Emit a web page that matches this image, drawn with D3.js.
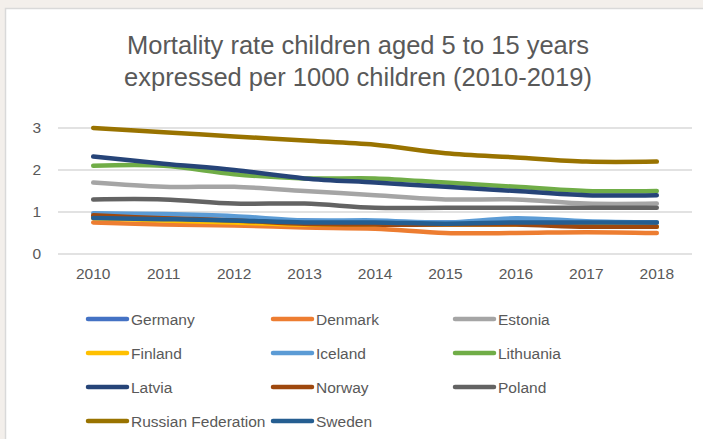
<!DOCTYPE html>
<html><head><meta charset="utf-8">
<script src="https://cdn.jsdelivr.net/npm/d3@7"></script>
<style>html,body{margin:0;padding:0;background:#f3efeb;overflow:hidden}</style>
</head><body>
<svg id="c" width="703" height="439"></svg>
<script>
const years = ["2010","2011","2012","2013","2014","2015","2016","2017","2018"];
const yTicks = [0,1,2,3];
const titleLines = ["Mortality rate children aged 5 to 15 years","expressed per 1000 children (2010-2019)"];
const seriesNames = ["Germany","Denmark","Estonia","Finland","Iceland","Lithuania","Latvia","Norway","Poland","Russian Federation","Sweden"];
const seriesColors = ["#4472C4","#ED7D31","#A5A5A5","#FFC000","#5B9BD5","#70AD47","#264478","#9E480E","#636363","#997300","#255E91"];
const germany   = [0.88,0.85,0.8,0.8,0.75,0.75,0.75,0.75,0.75];
const denmark   = [0.75,0.7,0.68,0.63,0.6,0.5,0.5,0.52,0.5];
const estonia   = [1.7,1.6,1.6,1.5,1.4,1.3,1.3,1.2,1.2];
const finland   = [0.85,0.8,0.75,0.7,0.7,0.7,0.7,0.7,0.65];
const iceland   = [0.97,0.95,0.9,0.8,0.8,0.75,0.85,0.78,0.75];
const lithuania = [2.1,2.1,1.9,1.8,1.8,1.7,1.6,1.5,1.5];
const latvia    = [2.32,2.15,2.0,1.8,1.7,1.6,1.5,1.4,1.4];
const norway    = [0.92,0.85,0.8,0.72,0.7,0.7,0.7,0.65,0.65];
const poland    = [1.3,1.3,1.2,1.2,1.1,1.1,1.1,1.1,1.1];
const russia    = [3.0,2.9,2.8,2.7,2.6,2.4,2.3,2.2,2.2];
const sweden    = [0.86,0.83,0.8,0.75,0.75,0.72,0.75,0.75,0.75];
const seriesValues = [germany,denmark,estonia,finland,iceland,lithuania,latvia,norway,poland,russia,sweden];

const svg = d3.select("#c");
svg.append("rect").attr("x",0).attr("y",0).attr("width",703).attr("height",439).attr("fill","#f3efeb");
svg.append("rect").attr("x",5.5).attr("y",8.5).attr("width",720).attr("height",460)
  .attr("fill","#ffffff").attr("stroke","#d9d9d9").attr("stroke-width",1.5);

const font = "'Liberation Sans', Arial, sans-serif";
const txt = "#595959";

svg.selectAll("text.title").data(titleLines).join("text").attr("class","title")
  .attr("x",358).attr("y",(d,i)=>54+i*32).attr("text-anchor","middle")
  .attr("font-family",font).attr("font-size",25.5).attr("fill",txt).text(d=>d);

const x = d3.scaleBand().domain(years).range([58,692]);
const y = d3.scaleLinear().domain([0,3]).range([254,128]);

const grid = svg.append("g");
grid.selectAll("line").data(yTicks).join("line")
  .attr("x1",58).attr("x2",692).attr("y1",d=>y(d)).attr("y2",d=>y(d))
  .attr("stroke","#d9d9d9").attr("stroke-width",1.5);

const yAxis = svg.append("g").attr("transform","translate(58,0)")
  .call(d3.axisLeft(y).tickValues(yTicks).tickSize(0).tickPadding(17).tickFormat(d3.format("d")));
yAxis.select(".domain").remove();
yAxis.selectAll("text").attr("font-family",font).attr("font-size",15.5).attr("fill",txt);

const xAxis = svg.append("g").attr("transform","translate(0,254)")
  .call(d3.axisBottom(x).tickSize(0).tickPadding(14));
xAxis.select(".domain").remove();
xAxis.selectAll("text").attr("font-family",font).attr("font-size",15.5).attr("fill",txt);

const line = d3.line().x((d,i)=>x(years[i])+x.bandwidth()/2).y(d=>y(d)).curve(d3.curveCatmullRom.alpha(0.5));
svg.append("g").selectAll("path").data(seriesValues).join("path")
  .attr("d",d=>line(d)).attr("fill","none")
  .attr("stroke",(d,i)=>seriesColors[i]).attr("stroke-width",4.5)
  .attr("stroke-linecap","round").attr("stroke-linejoin","round");

const colX = [88,273,455];
const rowY = [319,353,387,421];
const leg = svg.append("g").selectAll("g").data(seriesNames).join("g")
  .attr("transform",(d,i)=>`translate(${colX[i%3]},${rowY[Math.floor(i/3)]})`);
leg.append("line").attr("x1",0).attr("x2",39).attr("y1",0).attr("y2",0)
  .attr("stroke",(d,i)=>seriesColors[i]).attr("stroke-width",4.5).attr("stroke-linecap","round");
leg.append("text").attr("x",43).attr("y",5.5).attr("font-family",font).attr("font-size",15.5)
  .attr("fill",txt).text(d=>d);
</script>
</body></html>
